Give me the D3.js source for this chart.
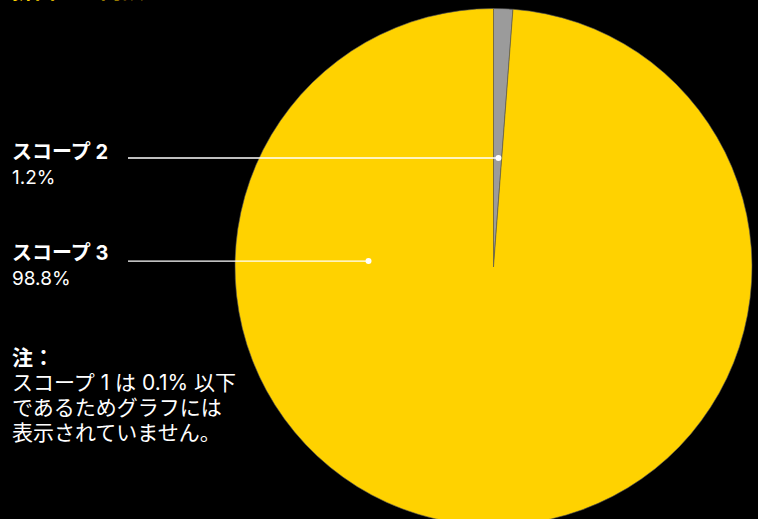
<!DOCTYPE html>
<html>
<head>
<meta charset="utf-8">
<script src="https://cdn.jsdelivr.net/npm/d3@7"></script>
<style>
  html, body { margin: 0; padding: 0; background: #000; }
  svg { display: block; font-family: Inter, "Noto Sans CJK JP", sans-serif; }
</style>
</head>
<body>
<svg id="chart" width="758" height="519"></svg>
<script>
"use strict";
// data
const categories = ["スコープ 2", "スコープ 3"];
const shares = [1.2, 98.8];
const shareLabels = ["1.2%", "98.8%"];
const sliceColors = ["#9b9b9b", "#ffd200"];
const titleText = "排出量の内訳";
const noteLines = ["注：", "スコープ 1 は 0.1% 以下", "であるためグラフには", "表示されていません。"];

const width = 758, height = 519;
const svg = d3.select("#chart");
const cx = 493.5, cy = 267, radius = 258.5;

// title sits almost entirely above the visible frame
svg.append("text")
  .attr("x", 12).attr("y", -2)
  .attr("fill", "#ffd200").attr("font-size", 22).attr("font-weight", 700)
  .text(titleText);

const pie = d3.pie().sort(null).value(d => d);
const arcs = pie(shares);
const arc = d3.arc().innerRadius(0).outerRadius(radius);

const g = svg.append("g").attr("transform", `translate(${cx},${cy})`);
g.selectAll("path.slice")
  .data(arcs)
  .join("path")
  .attr("class", "slice")
  .attr("d", arc)
  .attr("fill", (d, i) => sliceColors[i])
  .attr("stroke", "#555")
  .attr("stroke-width", 0.6);

// where each leader line touches the pie (angle in degrees clockwise from top, fraction of radius)
const anchors = [{ angle: 2.6, r: 0.422 }, { angle: 272.7, r: 0.484 }];
const labelX = 12, lineStartX = 128;
const labelY = [159, 260];

categories.forEach((name, i) => {
  const a = anchors[i].angle * Math.PI / 180;
  const px = cx + Math.sin(a) * radius * anchors[i].r;
  const py = cy - Math.cos(a) * radius * anchors[i].r;
  svg.append("line")
    .attr("x1", lineStartX).attr("x2", px)
    .attr("y1", py).attr("y2", py)
    .attr("stroke", "#fff").attr("stroke-width", 1.4);
  svg.append("circle")
    .attr("cx", px).attr("cy", py).attr("r", 3)
    .attr("fill", "#fff");
  svg.append("text")
    .attr("x", labelX).attr("y", labelY[i])
    .attr("fill", "#fff").attr("font-size", 20).attr("font-weight", 700)
    .text(name);
  svg.append("text")
    .attr("x", labelX).attr("y", labelY[i] + 25)
    .attr("fill", "#fff").attr("font-size", 19)
    .text(shareLabels[i]);
});

noteLines.forEach((t, i) => {
  svg.append("text")
    .attr("x", labelX).attr("y", 365 + i * 25)
    .attr("fill", "#fff").attr("font-size", 21)
    .attr("font-weight", i ? 400 : 700)
    .text(t);
});
</script>
</body>
</html>
